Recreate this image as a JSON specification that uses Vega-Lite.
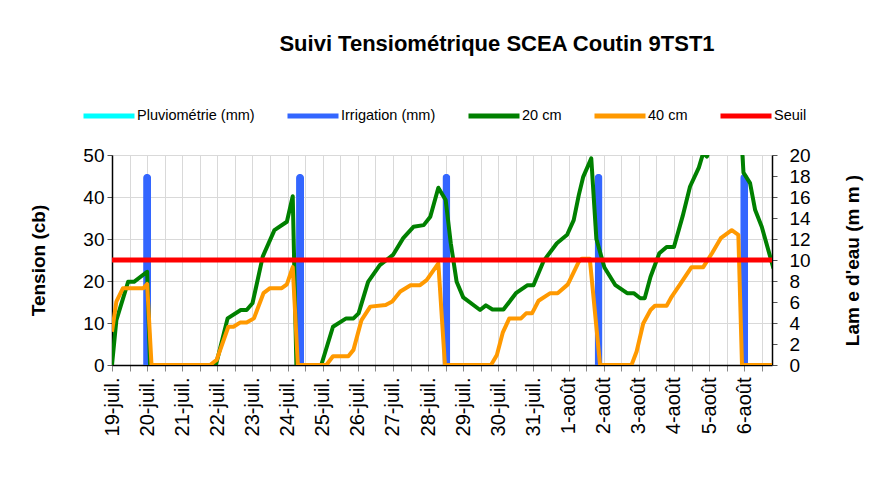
{
  "$schema": "https://vega.github.io/schema/vega-lite/v6.json",
  "width": 660,
  "height": 210,
  "autosize": {"type": "none"},
  "padding": {"left": 112, "top": 155, "right": 114, "bottom": 134},
  "background": "white",
  "title": {"text": "Suivi Tensiométrique SCEA Coutin 9TST1", "fontSize": 22, "fontWeight": "bold", "anchor": "middle", "dx": 55, "offset": 32, "color": "black"},
  "datasets": {
    "irrigation": [
      {"t": "2013-07-20T00:00", "serie": "Irrigation (mm)", "mm": 18.2},
      {"t": "2013-07-24T08:30", "serie": "Irrigation (mm)", "mm": 18.2},
      {"t": "2013-07-28T12:30", "serie": "Irrigation (mm)", "mm": 18.2},
      {"t": "2013-08-01T20:30", "serie": "Irrigation (mm)", "mm": 18.2},
      {"t": "2013-08-06T00:00", "serie": "Irrigation (mm)", "mm": 18.2}
    ],
    "seuil": [
      {"t": "2013-07-19T00:00", "serie": "Seuil", "v": 25},
      {"t": "2013-08-06T19:00", "serie": "Seuil", "v": 25}
    ],
    "tension": [
      {"t": "2013-07-19T00:00", "serie": "20 cm", "v": 0},
      {"t": "2013-07-19T03:00", "serie": "20 cm", "v": 10.7},
      {"t": "2013-07-19T11:00", "serie": "20 cm", "v": 19.8},
      {"t": "2013-07-19T15:00", "serie": "20 cm", "v": 19.8},
      {"t": "2013-07-20T00:00", "serie": "20 cm", "v": 22.2},
      {"t": "2013-07-20T02:00", "serie": "20 cm", "v": 0},
      {"t": "2013-07-21T23:00", "serie": "20 cm", "v": 0},
      {"t": "2013-07-22T07:00", "serie": "20 cm", "v": 11.1},
      {"t": "2013-07-22T16:00", "serie": "20 cm", "v": 13.1},
      {"t": "2013-07-22T20:00", "serie": "20 cm", "v": 13.1},
      {"t": "2013-07-23T00:00", "serie": "20 cm", "v": 14.7},
      {"t": "2013-07-23T03:00", "serie": "20 cm", "v": 19.4},
      {"t": "2013-07-23T07:00", "serie": "20 cm", "v": 25.8},
      {"t": "2013-07-23T15:00", "serie": "20 cm", "v": 32.1},
      {"t": "2013-07-23T23:30", "serie": "20 cm", "v": 34.1},
      {"t": "2013-07-24T03:30", "serie": "20 cm", "v": 40.2},
      {"t": "2013-07-24T06:00", "serie": "20 cm", "v": 0},
      {"t": "2013-07-24T23:00", "serie": "20 cm", "v": 0},
      {"t": "2013-07-25T07:00", "serie": "20 cm", "v": 9.1},
      {"t": "2013-07-25T16:00", "serie": "20 cm", "v": 11.1},
      {"t": "2013-07-25T21:00", "serie": "20 cm", "v": 11.1},
      {"t": "2013-07-26T00:30", "serie": "20 cm", "v": 12.3},
      {"t": "2013-07-26T07:00", "serie": "20 cm", "v": 19.8},
      {"t": "2013-07-26T15:00", "serie": "20 cm", "v": 23.8},
      {"t": "2013-07-27T00:00", "serie": "20 cm", "v": 26.2},
      {"t": "2013-07-27T07:00", "serie": "20 cm", "v": 30.2},
      {"t": "2013-07-27T14:00", "serie": "20 cm", "v": 32.9},
      {"t": "2013-07-27T21:00", "serie": "20 cm", "v": 33.3},
      {"t": "2013-07-28T01:30", "serie": "20 cm", "v": 35.3},
      {"t": "2013-07-28T07:00", "serie": "20 cm", "v": 42.2},
      {"t": "2013-07-28T12:00", "serie": "20 cm", "v": 39.3},
      {"t": "2013-07-28T15:30", "serie": "20 cm", "v": 29.0},
      {"t": "2013-07-28T19:30", "serie": "20 cm", "v": 19.8},
      {"t": "2013-07-29T00:00", "serie": "20 cm", "v": 16.1},
      {"t": "2013-07-29T11:30", "serie": "20 cm", "v": 13.1},
      {"t": "2013-07-29T15:30", "serie": "20 cm", "v": 14.2},
      {"t": "2013-07-29T20:00", "serie": "20 cm", "v": 13.2},
      {"t": "2013-07-30T03:30", "serie": "20 cm", "v": 13.2},
      {"t": "2013-07-30T12:00", "serie": "20 cm", "v": 17.1},
      {"t": "2013-07-30T20:00", "serie": "20 cm", "v": 19.0},
      {"t": "2013-07-31T00:00", "serie": "20 cm", "v": 19.0},
      {"t": "2013-07-31T07:00", "serie": "20 cm", "v": 24.8},
      {"t": "2013-07-31T16:00", "serie": "20 cm", "v": 29.0},
      {"t": "2013-07-31T23:00", "serie": "20 cm", "v": 31.0},
      {"t": "2013-08-01T03:30", "serie": "20 cm", "v": 34.5},
      {"t": "2013-08-01T07:00", "serie": "20 cm", "v": 40.5},
      {"t": "2013-08-01T10:00", "serie": "20 cm", "v": 44.8},
      {"t": "2013-08-01T15:30", "serie": "20 cm", "v": 49.2},
      {"t": "2013-08-01T19:00", "serie": "20 cm", "v": 30.0},
      {"t": "2013-08-02T00:30", "serie": "20 cm", "v": 23.2},
      {"t": "2013-08-02T08:00", "serie": "20 cm", "v": 19.0},
      {"t": "2013-08-02T16:00", "serie": "20 cm", "v": 17.1},
      {"t": "2013-08-02T20:30", "serie": "20 cm", "v": 17.1},
      {"t": "2013-08-03T01:00", "serie": "20 cm", "v": 15.9},
      {"t": "2013-08-03T04:00", "serie": "20 cm", "v": 15.9},
      {"t": "2013-08-03T08:00", "serie": "20 cm", "v": 21.0},
      {"t": "2013-08-03T14:00", "serie": "20 cm", "v": 26.6},
      {"t": "2013-08-03T19:00", "serie": "20 cm", "v": 28.1},
      {"t": "2013-08-04T00:00", "serie": "20 cm", "v": 28.1},
      {"t": "2013-08-04T06:00", "serie": "20 cm", "v": 35.5},
      {"t": "2013-08-04T11:00", "serie": "20 cm", "v": 42.5},
      {"t": "2013-08-04T17:00", "serie": "20 cm", "v": 47.0},
      {"t": "2013-08-04T20:00", "serie": "20 cm", "v": 50.5},
      {"t": "2013-08-04T22:30", "serie": "20 cm", "v": 49.6},
      {"t": "2013-08-05T02:00", "serie": "20 cm", "v": 53},
      {"t": "2013-08-05T12:00", "serie": "20 cm", "v": 60},
      {"t": "2013-08-05T21:30", "serie": "20 cm", "v": 58},
      {"t": "2013-08-05T23:30", "serie": "20 cm", "v": 45.8},
      {"t": "2013-08-06T04:00", "serie": "20 cm", "v": 43.3},
      {"t": "2013-08-06T07:30", "serie": "20 cm", "v": 36.9},
      {"t": "2013-08-06T12:00", "serie": "20 cm", "v": 32.9},
      {"t": "2013-08-06T20:00", "serie": "20 cm", "v": 23.0},
      {"t": "2013-07-19T00:00", "serie": "40 cm", "v": 7.9},
      {"t": "2013-07-19T03:00", "serie": "40 cm", "v": 15.1},
      {"t": "2013-07-19T07:30", "serie": "40 cm", "v": 18.3},
      {"t": "2013-07-19T21:30", "serie": "40 cm", "v": 18.3},
      {"t": "2013-07-20T00:00", "serie": "40 cm", "v": 19.3},
      {"t": "2013-07-20T03:00", "serie": "40 cm", "v": 0},
      {"t": "2013-07-21T19:00", "serie": "40 cm", "v": 0},
      {"t": "2013-07-21T23:30", "serie": "40 cm", "v": 1.2},
      {"t": "2013-07-22T07:30", "serie": "40 cm", "v": 9.1},
      {"t": "2013-07-22T11:00", "serie": "40 cm", "v": 9.1},
      {"t": "2013-07-22T15:30", "serie": "40 cm", "v": 10.1},
      {"t": "2013-07-22T20:00", "serie": "40 cm", "v": 10.1},
      {"t": "2013-07-23T01:00", "serie": "40 cm", "v": 11.1},
      {"t": "2013-07-23T07:30", "serie": "40 cm", "v": 17.1},
      {"t": "2013-07-23T12:00", "serie": "40 cm", "v": 18.3},
      {"t": "2013-07-23T20:00", "serie": "40 cm", "v": 18.3},
      {"t": "2013-07-23T23:30", "serie": "40 cm", "v": 19.2},
      {"t": "2013-07-24T03:30", "serie": "40 cm", "v": 23.3},
      {"t": "2013-07-24T07:00", "serie": "40 cm", "v": 0},
      {"t": "2013-07-25T02:30", "serie": "40 cm", "v": 0},
      {"t": "2013-07-25T07:00", "serie": "40 cm", "v": 2.1},
      {"t": "2013-07-25T17:30", "serie": "40 cm", "v": 2.1},
      {"t": "2013-07-25T21:00", "serie": "40 cm", "v": 3.6},
      {"t": "2013-07-26T02:30", "serie": "40 cm", "v": 10.7},
      {"t": "2013-07-26T08:30", "serie": "40 cm", "v": 13.9},
      {"t": "2013-07-26T19:00", "serie": "40 cm", "v": 14.3},
      {"t": "2013-07-26T23:30", "serie": "40 cm", "v": 15.1},
      {"t": "2013-07-27T05:00", "serie": "40 cm", "v": 17.5},
      {"t": "2013-07-27T12:00", "serie": "40 cm", "v": 19.0},
      {"t": "2013-07-27T18:30", "serie": "40 cm", "v": 19.0},
      {"t": "2013-07-27T23:00", "serie": "40 cm", "v": 20.2},
      {"t": "2013-07-28T07:00", "serie": "40 cm", "v": 24.2},
      {"t": "2013-07-28T11:30", "serie": "40 cm", "v": 0},
      {"t": "2013-07-29T19:00", "serie": "40 cm", "v": 0},
      {"t": "2013-07-29T23:00", "serie": "40 cm", "v": 2.4},
      {"t": "2013-07-30T03:00", "serie": "40 cm", "v": 7.7},
      {"t": "2013-07-30T07:30", "serie": "40 cm", "v": 11.1},
      {"t": "2013-07-30T15:30", "serie": "40 cm", "v": 11.1},
      {"t": "2013-07-30T19:00", "serie": "40 cm", "v": 12.3},
      {"t": "2013-07-30T23:00", "serie": "40 cm", "v": 12.3},
      {"t": "2013-07-31T03:30", "serie": "40 cm", "v": 15.3},
      {"t": "2013-07-31T11:30", "serie": "40 cm", "v": 17.1},
      {"t": "2013-07-31T16:30", "serie": "40 cm", "v": 17.1},
      {"t": "2013-07-31T23:30", "serie": "40 cm", "v": 19.2},
      {"t": "2013-08-01T07:00", "serie": "40 cm", "v": 24.6},
      {"t": "2013-08-01T09:00", "serie": "40 cm", "v": 25.3},
      {"t": "2013-08-01T14:30", "serie": "40 cm", "v": 25.3},
      {"t": "2013-08-01T21:30", "serie": "40 cm", "v": 0},
      {"t": "2013-08-02T19:00", "serie": "40 cm", "v": 0},
      {"t": "2013-08-02T22:30", "serie": "40 cm", "v": 3.2},
      {"t": "2013-08-03T03:00", "serie": "40 cm", "v": 9.9},
      {"t": "2013-08-03T08:00", "serie": "40 cm", "v": 13.1},
      {"t": "2013-08-03T11:00", "serie": "40 cm", "v": 14.1},
      {"t": "2013-08-03T19:00", "serie": "40 cm", "v": 14.1},
      {"t": "2013-08-03T22:30", "serie": "40 cm", "v": 16.3},
      {"t": "2013-08-04T04:30", "serie": "40 cm", "v": 19.4},
      {"t": "2013-08-04T12:00", "serie": "40 cm", "v": 23.3},
      {"t": "2013-08-04T20:00", "serie": "40 cm", "v": 23.3},
      {"t": "2013-08-05T02:00", "serie": "40 cm", "v": 26.6},
      {"t": "2013-08-05T08:00", "serie": "40 cm", "v": 30.2},
      {"t": "2013-08-05T15:30", "serie": "40 cm", "v": 32.1},
      {"t": "2013-08-05T20:00", "serie": "40 cm", "v": 31.0},
      {"t": "2013-08-05T22:30", "serie": "40 cm", "v": 0},
      {"t": "2013-08-06T19:00", "serie": "40 cm", "v": 0}
    ]
  },
  "layer": [
    {
      "data": {"name": "irrigation"},
      "mark": {"type": "bar", "width": 8, "cornerRadiusTopLeft": 4, "cornerRadiusTopRight": 4},
      "encoding": {
        "x": {
          "field": "t", "type": "temporal",
          "scale": {"domain": [{"year": 2013, "month": 7, "date": 19, "hours": 0}, {"year": 2013, "month": 8, "date": 6, "hours": 19}], "padding": 0, "nice": false},
          "axis": {
            "title": null,
            "tickCount": 38,
            "labelExpr": "hours(datum.value) == 0 ? date(datum.value) + '-' + (month(datum.value) == 6 ? 'juil.' : 'août') : ''",
            "labelAngle": 270,
            "labelFontSize": 20,
            "labelPadding": 6,
            "tickSize": 6,
            "tickColor": "#888888",
            "grid": true,
            "gridColor": "#d9d9d9",
            "domainColor": "black",
            "domainWidth": 1.5,
            "labelOverlap": false,
            "labelFlush": false,
            "labelBound": false,
            "labelColor": "black"
          }
        },
        "y": {
          "field": "mm", "type": "quantitative",
          "scale": {"domain": [0, 20]},
          "axis": {
            "orient": "right",
            "title": "Lam e d'eau (m m )",
            "values": [0, 2, 4, 6, 8, 10, 12, 14, 16, 18, 20],
            "grid": false,
            "tickSize": 5,
            "tickColor": "#555555",
            "labelPadding": 12,
            "labelFontSize": 19,
            "labelColor": "black",
            "domainColor": "black",
            "domainWidth": 1.5,
            "titleFontSize": 19,
            "titleFontWeight": "bold",
            "titleColor": "black",
            "titleAngle": 270,
            "titleX": 80,
            "titleY": 105,
            "titleAlign": "center",
            "titleBaseline": "middle"
          }
        },
        "color": {
          "field": "serie", "type": "nominal",
          "scale": {
            "domain": ["Pluviométrie (mm)", "Irrigation (mm)", "20 cm", "40 cm", "Seuil"],
            "range": ["#00FFFF", "#3366FF", "#008000", "#FF9900", "#FF0000"]
          },
          "legend": {
            "orient": "none",
            "legendX": -31,
            "legendY": -67,
            "direction": "horizontal",
            "columns": 5,
            "title": null,
            "symbolType": "stroke",
            "symbolSize": 2601,
            "symbolStrokeWidth": 5,
            "labelFontSize": 14.5,
            "labelOffset": 0,
            "labelColor": "black",
            "labelLimit": 300,
            "columnPadding": 22
          }
        }
      }
    },
    {
      "layer": [
        {
          "data": {"name": "tension"},
          "mark": {"type": "line", "strokeWidth": 4, "clip": true, "strokeJoin": "round"},
          "encoding": {
            "x": {"field": "t", "type": "temporal"},
            "y": {
              "field": "v", "type": "quantitative",
              "scale": {"domain": [0, 50]},
              "axis": {
                "title": "Tension (cb)",
                "values": [0, 5, 10, 15, 20, 25, 30, 35, 40, 45, 50],
                "grid": true,
                "gridColor": "#d9d9d9",
                "tickSize": 5,
                "tickColor": "#555555",
                "labelPadding": 3,
                "labelFontSize": 19,
                "labelColor": "black",
                "domainColor": "black",
                "domainWidth": 1.5,
                "titleFontSize": 19,
                "titleFontWeight": "bold",
                "titleColor": "black",
                "titleAngle": 270,
                "titleX": -74,
                "titleY": 105,
                "titleAlign": "center",
                "titleBaseline": "middle"
              }
            },
            "color": {"field": "serie", "type": "nominal"}
          }
        },
        {
          "data": {"name": "seuil"},
          "mark": {"type": "line", "strokeWidth": 5, "clip": true},
          "encoding": {
            "x": {"field": "t", "type": "temporal"},
            "y": {"field": "v", "type": "quantitative"},
            "color": {"field": "serie", "type": "nominal"}
          }
        }
      ]
    }
  ],
  "resolve": {"scale": {"y": "independent"}},
  "config": {
    "font": "Liberation Sans",
    "view": {"stroke": null}
  }
}
